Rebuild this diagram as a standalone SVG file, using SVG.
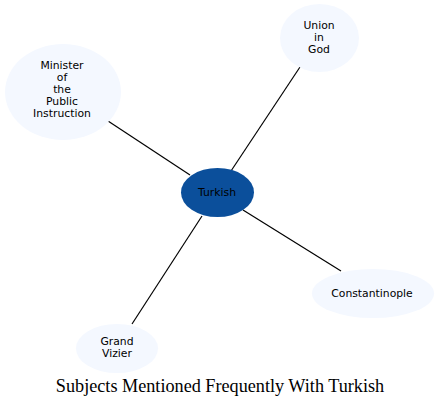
<svg xmlns="http://www.w3.org/2000/svg" width="439" height="409" viewBox="0 0 439 409">
<style>
.n{fill:#f4f8ff;stroke:none}
.t{font-family:"DejaVu Sans",sans-serif;font-size:10.8px;fill:#000;text-anchor:middle}
.e{stroke:#000;stroke-width:1.2;fill:none}
</style>
<rect width="439" height="409" fill="#fff"/>
<g id="edges">
<line class="e" x1="108" y1="121" x2="190" y2="175"/>
<line class="e" x1="300" y1="67" x2="231" y2="171"/>
<line class="e" x1="243" y1="210" x2="341" y2="271"/>
<line class="e" x1="202" y1="216" x2="132" y2="324"/>
</g>
<g id="minister">
<ellipse class="n" cx="63" cy="92" rx="58" ry="48"/>
<text class="t" x="62" y="69">Minister</text>
<text class="t" x="62" y="81">of</text>
<text class="t" x="62" y="93">the</text>
<text class="t" x="62" y="105">Public</text>
<text class="t" x="62" y="117">Instruction</text>
</g>
<g id="union">
<ellipse class="n" cx="319.5" cy="38" rx="39.5" ry="34"/>
<text class="t" x="319" y="29">Union</text>
<text class="t" x="319" y="41">in</text>
<text class="t" x="319" y="53">God</text>
</g>
<g id="turkish">
<ellipse cx="217.5" cy="192.5" rx="36.5" ry="24.5" fill="#0b4f9b"/>
<text class="t" x="217" y="196">Turkish</text>
</g>
<g id="constantinople">
<ellipse class="n" cx="373" cy="293.5" rx="61" ry="24.5"/>
<text class="t" x="372" y="297">Constantinople</text>
</g>
<g id="vizier">
<ellipse class="n" cx="117" cy="348.5" rx="41" ry="24.5"/>
<text class="t" x="117" y="345">Grand</text>
<text class="t" x="117" y="357">Vizier</text>
</g>
<text x="220" y="392" font-family="Liberation Serif,serif" font-size="18.2" text-anchor="middle">Subjects Mentioned Frequently With Turkish</text>
</svg>
